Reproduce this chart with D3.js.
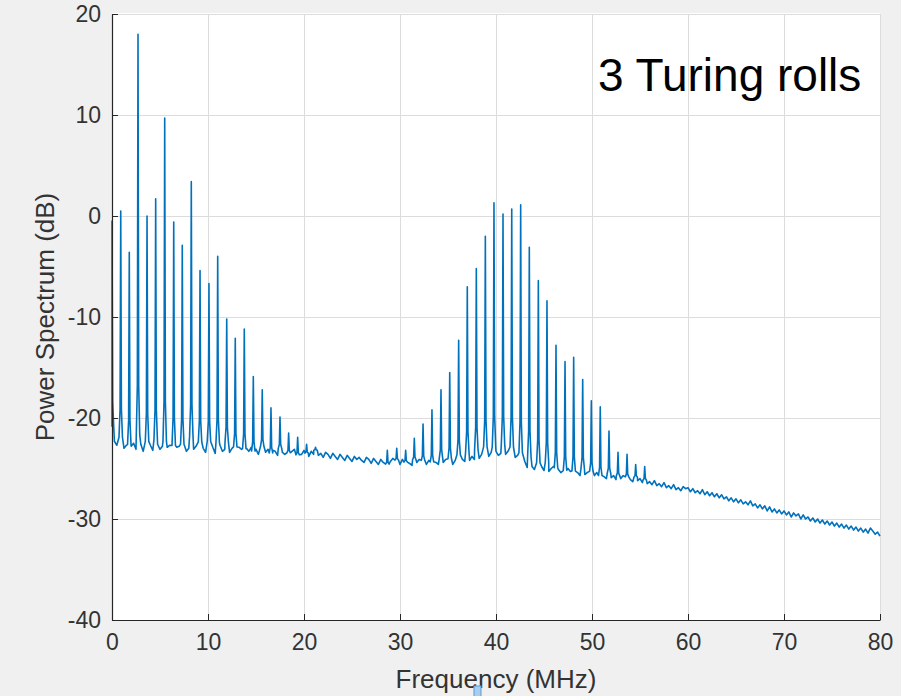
<!DOCTYPE html>
<meta charset="utf-8">
<html>
<head>
  <script src="https://d3js.org/d3.v7.min.js"></script>
  <style>
    body { margin: 0; background: #f0f0f0; }
    svg text { font-family: "Liberation Sans", Arial, sans-serif; }
  </style>
</head>
<body>
  <svg></svg>
  <script type="text/javascript">
    // tick values
    var xTicks = [0, 10, 20, 30, 40, 50, 60, 70, 80]
    var yTicks = [-40, -30, -20, -10, 0, 10, 20]

    // noise floor, read every 0.25 MHz from 0 to 80 MHz (dB), one row per MHz
    var floorStep = 0.25
    var floorDb = [
      -21.5, -22.3, -22.7, -22.9,
      -22.6, -23.0, -22.7, -23.2,
      -22.8, -22.5, -23.1, -22.9,
      -22.6, -23.3, -22.8, -23.0,
      -22.7, -23.2, -22.9, -22.6,
      -23.1, -22.8, -23.3, -22.9,
      -22.7, -23.1, -23.4, -22.9,
      -22.8, -23.2, -22.9, -23.3,
      -23.0, -22.6, -23.1, -22.8,
      -23.3, -22.9, -23.0, -23.4,
      -22.8, -23.2, -22.9, -23.5,
      -23.0, -22.7, -23.3, -23.1,
      -22.8, -23.4, -23.0, -23.2,
      -23.5, -22.9, -23.1, -23.4,
      -23.0, -23.3, -22.9, -23.5,
      -23.1, -23.6, -23.2, -23.0,
      -23.4, -23.1, -23.6, -23.2,
      -23.3, -23.7, -23.1, -23.4,
      -23.6, -23.2, -23.5, -23.3,
      -23.1, -23.7, -23.4, -23.6,
      -23.2, -23.5, -23.8, -23.3,
      -23.6, -23.2, -23.7, -23.5,
      -23.9, -23.4, -23.6, -24.0,
      -23.5, -23.8, -24.1, -23.6,
      -23.9, -24.2, -23.7, -24.0,
      -24.3, -23.8, -24.1, -23.9,
      -24.2, -24.4, -23.9, -24.1,
      -24.5, -24.0, -24.3, -24.6,
      -24.1, -24.4, -24.2, -24.6,
      -24.3, -24.0, -24.5, -24.2,
      -24.6, -24.1, -24.4, -24.2,
      -24.5, -24.7, -24.2, -24.4,
      -24.1, -24.5, -24.3, -24.6,
      -24.2, -24.5, -24.0, -24.4,
      -24.6, -24.2, -24.4, -24.1,
      -24.5, -24.3, -24.6, -24.2,
      -24.0, -24.4, -24.1, -24.3,
      -23.9, -24.2, -23.8, -24.1,
      -23.7, -24.0, -23.6, -23.9,
      -23.5, -23.8, -23.4, -23.6,
      -23.3, -23.7, -23.5, -23.4,
      -23.6, -23.3, -23.8, -23.6,
      -23.9, -23.7, -24.2, -24.6,
      -24.3, -24.9, -24.5, -24.8,
      -25.1, -24.7, -25.0, -24.8,
      -25.2, -24.9, -25.3, -25.0,
      -24.8, -25.3, -25.1, -25.4,
      -25.2, -25.5, -25.0, -25.3,
      -25.6, -25.2, -25.4, -25.7,
      -25.3, -25.6, -25.4, -25.8,
      -25.5, -25.7, -25.4, -25.9,
      -25.6, -25.8, -26.0, -25.6,
      -25.9, -25.7, -26.1, -25.8,
      -26.0, -25.7, -26.2, -25.9,
      -26.1, -26.3, -25.9, -26.2,
      -26.0, -26.4, -26.2, -26.5,
      -26.3, -26.6, -26.2, -26.7,
      -26.5, -26.8, -26.4, -26.9,
      -26.7, -27.0, -26.6, -27.1,
      -26.9, -27.2, -26.8, -27.0,
      -26.9, -27.3, -27.0, -27.4,
      -27.2, -27.5, -27.1, -27.6,
      -27.3, -27.7, -27.4, -27.8,
      -27.5, -27.9, -27.6, -28.0,
      -27.8, -28.2, -27.9, -28.3,
      -28.0, -28.4, -28.1, -28.5,
      -28.3, -28.6, -28.2, -28.7,
      -28.5, -28.9, -28.6, -29.0,
      -28.7, -29.2, -28.8, -29.3,
      -29.0, -29.4, -29.1, -29.5,
      -29.2, -29.6, -29.3, -29.8,
      -29.4, -29.7, -29.5, -30.0,
      -29.6, -30.0, -29.8, -30.2,
      -29.9, -30.3, -30.0, -30.4,
      -30.1, -30.5, -30.2, -30.6,
      -30.3, -30.7, -30.4, -30.8,
      -30.5, -30.9, -30.6, -31.0,
      -30.7, -31.1, -30.8, -31.2,
      -30.9, -31.3, -31.0, -31.4,
      -30.9, -31.2, -31.5, -31.3,
      -31.7
    ]

    // comb lines near DC (MHz, dB)
    var comb1Freq = [0, 0.91, 1.80, 2.71, 3.65, 4.55, 5.49, 6.43, 7.32, 8.26,
      9.17, 10.10, 11.01, 11.95, 12.84, 13.78, 14.72, 15.65, 16.56, 17.50,
      18.40, 19.34, 20.27, 21.20]
    var comb1Db = [-0.5, 0.5, -3.6, 18.0, 0.0, 1.7, 9.7, -0.6, -2.9, 3.4,
      -5.4, -6.7, -4.0, -10.2, -12.1, -11.2, -15.9, -17.2, -19.0, -19.9,
      -21.5, -21.9, -22.6, -22.9]

    // comb lines around 40 MHz
    var comb2Freq = [28.68, 29.66, 30.59, 31.49, 32.40, 33.33, 34.27, 35.18,
      36.11, 37.01, 37.95, 38.89, 39.79, 40.73, 41.64, 42.57, 43.47, 44.41,
      45.31, 46.25, 47.19, 48.09, 49.03, 49.93, 50.86, 51.77, 52.71, 53.65,
      54.55, 55.49]
    var comb2Db = [-23.2, -23.0, -23.2, -22.0, -20.6, -19.2, -17.2, -15.5,
      -12.3, -7.0, -5.2, -2.0, 1.3, 0.2, 0.7, 1.1, -3.1, -6.4, -8.4, -12.8,
      -14.4, -14.0, -16.2, -18.3, -18.9, -21.3, -23.4, -23.6, -24.6, -24.8]

    const width = 901
    const height = 696
    const margin = { left: 112, right: 21, top: 14, bottom: 76 }

    const svg = d3.select('svg')
      .attr('width', width)
      .attr('height', height)

    svg.append('rect')
      .attr('width', width).attr('height', height)
      .attr('fill', '#f0f0f0')

    const x = d3.scaleLinear().domain([0, 80]).range([margin.left, width - margin.right])
    const y = d3.scaleLinear().domain([-40, 20]).range([height - margin.bottom, margin.top])

    // white axes box
    svg.append('rect')
      .attr('x', x(0)).attr('y', y(20) - 1)
      .attr('width', x(80) - x(0)).attr('height', y(-40) - y(20) + 1)
      .attr('fill', '#fff')

    // grid
    const grid = svg.append('g').attr('stroke', '#dcdcdc').attr('stroke-width', 1)
    grid.selectAll('.gx').data(xTicks.slice(1)).enter().append('line')
      .attr('x1', d => x(d) + 0.5).attr('x2', d => x(d) + 0.5)
      .attr('y1', y(20)).attr('y2', y(-40))
    grid.selectAll('.gy').data(yTicks.slice(1)).enter().append('line')
      .attr('x1', x(0)).attr('x2', x(80))
      .attr('y1', d => y(d) + 0.5).attr('y2', d => y(d) + 0.5)

    // build one trace: floor samples plus narrow spikes at each comb line
    function nearestFloor(f) {
      var i = Math.max(0, Math.min(floorDb.length - 1, Math.round(f / floorStep)))
      return floorDb[i]
    }
    var pts = floorDb.map((v, i) => [i * floorStep, v])
    var peaks = comb1Freq.map((f, i) => [f, comb1Db[i]])
      .concat(comb2Freq.map((f, i) => [f, comb2Db[i]]))
    peaks.forEach(function(p) {
      var base = nearestFloor(p[0])
      var lift = Math.max(0, p[1] - base)
      // drop floor samples that fall inside the spike
      pts = pts.filter(q => Math.abs(q[0] - p[0]) > 0.18)
      pts.push([Math.max(0, p[0] - 0.18), base + 0.03 * lift])
      pts.push([Math.max(0, p[0] - 0.07), base + 0.15 * lift])
      pts.push([p[0], p[1]])
      pts.push([p[0] + 0.07, base + 0.15 * lift])
      pts.push([p[0] + 0.18, base + 0.03 * lift])
    })
    pts.sort((a, b) => a[0] - b[0])

    const line = d3.line()
      .x(d => x(d[0]))
      .y(d => y(d[1]))

    svg.append('path')
      .datum(pts)
      .attr('fill', 'none')
      .attr('stroke', '#0072BD')
      .attr('stroke-width', 1.6)
      .attr('stroke-linejoin', 'round')
      .attr('d', line)

    // axes, MATLAB style: ticks pointing inward, plain hyphen minus
    const fmt = d => String(d)
    const xAxis = svg.append('g')
      .attr('transform', 'translate(0,' + y(-40) + ')')
      .call(d3.axisBottom(x).tickValues(xTicks).tickFormat(fmt)
        .tickSizeInner(-6).tickSizeOuter(0).tickPadding(14))
    const yAxis = svg.append('g')
      .attr('transform', 'translate(' + x(0) + ',0)')
      .call(d3.axisLeft(y).tickValues(yTicks).tickFormat(fmt)
        .tickSizeInner(-6).tickSizeOuter(0).tickPadding(11))

    ;[xAxis, yAxis].forEach(function(a) {
      a.select('.domain').attr('stroke', '#262626').attr('stroke-width', 1.2)
      a.selectAll('.tick line').attr('stroke', '#262626')
      a.selectAll('.tick text')
        .attr('fill', '#333')
        .attr('font-size', 23)
        .attr('font-family', '"Liberation Sans", Arial, sans-serif')
    })

    svg.append('text')
      .attr('x', (x(0) + x(80)) / 2)
      .attr('y', 688)
      .attr('text-anchor', 'middle')
      .attr('fill', '#333')
      .attr('font-size', 26)
      .text('Frequency (MHz)')

    svg.append('text')
      .attr('transform', 'translate(54,' + y(-10) + ') rotate(-90)')
      .attr('text-anchor', 'middle')
      .attr('fill', '#333')
      .attr('font-size', 26)
      .text('Power Spectrum (dB)')

    svg.append('text')
      .attr('x', 598)
      .attr('y', 91)
      .attr('fill', '#000')
      .attr('font-size', 46)
      .attr('font-family', '"Open Sans", sans-serif')
      .text('3 Turing rolls')

    // small blue marker below the axis label
    svg.append('rect')
      .attr('x', 474).attr('y', 686).attr('width', 7).attr('height', 12)
      .attr('fill', '#a9cdf0').attr('stroke', '#5b9bd5')
  </script>
</body>
</html>
